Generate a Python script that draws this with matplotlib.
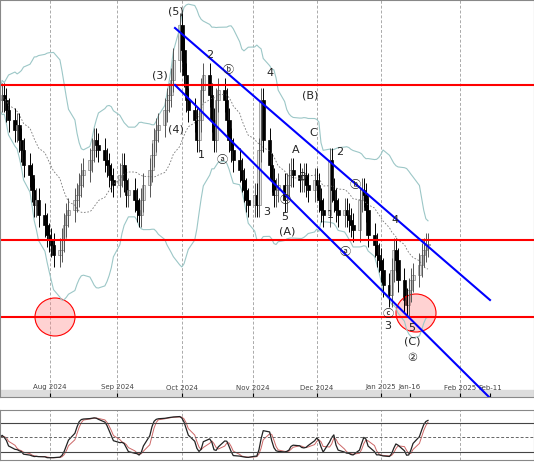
import numpy as np
import pandas as pd
import matplotlib
matplotlib.use("Agg")
import matplotlib.pyplot as plt

# closes (price units = 400 - pixel row), one per business day from 2024-07-08
closes = [300, 305, 300, 290, 280,
          270, 275, 260, 250, 235,
          225, 210, 195, 200, 185,
          175, 165, 160, 155, 145,
          150, 160, 175, 185, 190,
          200, 205, 215, 225, 230,
          240, 250, 260, 255, 250,
          240, 235, 225, 220, 215,
          225, 235, 220, 205, 210,
          200, 190, 185, 200, 215,
          230, 245, 260, 270, 275,
          290, 300, 305, 320, 340,
          375, 350, 325, 300, 290,
          280, 260, 280, 310, 325,
          305, 280, 260, 300, 310,
          300, 280, 260, 250, 240,
          230, 220, 210, 200, 195,
          205, 195, 250, 300, 260,
          235, 220, 205, 210, 215,
          200, 215, 225, 230, 225,
          220, 220, 225, 215, 210,
          220, 215, 200, 190, 185,
          240, 210, 200, 190, 185,
          190, 185, 180, 175, 170,
          200, 210, 205, 190, 165,
          155, 145, 140, 130, 115,
          105, 130, 150, 140, 120,
          100, 95, 110, 120, 125,
          135, 145, 150, 155, 155]
wick_up = 12
wick_dn = 12

hlines = [315, 160, 83]
upper_channel = [(175, 372), (490, 100)]
lower_channel = [(175, 315), (490, 2)]
labels = [("(5)", 176, 12), ("(3)", 160, 75), ("(4)", 176, 130), ("2", 210, 55),
          ("ⓑ", 228, 70), ("1", 201, 155), ("ⓐ", 222, 160), ("4", 270, 73),
          ("3", 267, 212), ("ⓒ", 285, 200), ("5", 285, 217), ("(A)", 287, 232),
          ("(B)", 310, 95), ("C", 313, 133), ("A", 296, 150), ("B", 303, 177),
          ("2", 340, 152), ("1", 330, 215), ("ⓑ", 355, 185), ("ⓐ", 345, 252),
          ("4", 395, 220), ("ⓒ", 388, 314), ("3", 388, 326), ("5", 412, 328),
          ("(C)", 412, 342), ("②", 412, 358)]

tick_names = ["Aug 2024", "Sep 2024", "Oct 2024", "Nov 2024", "Dec 2024",
              "Jan 2025", "Jan-16", "Feb 2025", "Feb-11"]
tick_px = [50, 117, 182, 253, 317, 381, 410, 460, 490]

PX = 2.14
start = pd.Timestamp("2024-07-08")
dates = pd.bdate_range(start, periods=len(closes))
xd = np.array([(d - start).days for d in dates], float)
c = np.array(closes, float)
o = np.r_[c[0], c[:-1]]
hi = np.maximum(o, c) + wick_up
lo = np.minimum(o, c) - wick_dn

def px2day(x):
    return x / PX

fig = plt.figure(figsize=(5.34, 4.62), dpi=100)
ax = fig.add_axes([0, 1 - 397 / 462, 1, 397 / 462])
ax2 = fig.add_axes([0, 2 / 462, 1, 50 / 462])
xmax = 534 / PX

# bollinger
s = pd.Series(c)
ma = s.rolling(20, min_periods=1).mean()
sd = s.rolling(20, min_periods=2).std().fillna(0)
ax.plot(xd, ma, color="#777777", lw=0.6, ls=(0, (2, 2)))
ax.plot(xd, ma + 2 * sd + 10, color="#9cc7c7", lw=0.8)
ax.plot(xd, ma - 2 * sd - 10, color="#9cc7c7", lw=0.8)

for i in range(len(c)):
    up = c[i] >= o[i]
    ax.vlines(xd[i], lo[i], hi[i], color="#555555" if up else "black", lw=0.7)
    ax.bar(xd[i], max(abs(c[i] - o[i]), 1.5), bottom=min(o[i], c[i]), width=1.5,
           color="#e6e6e6" if up else "black", edgecolor="#888888" if up else "black", lw=0.5)

for h in hlines:
    ax.axhline(h, color="red", lw=1.5)
for ch in (upper_channel, lower_channel):
    ax.plot([px2day(ch[0][0]), px2day(ch[1][0])], [ch[0][1], ch[1][1]], color="blue", lw=1.5)
for xc, yc in [(55, 317), (416, 313)]:
    ax.add_patch(matplotlib.patches.Ellipse((px2day(xc), 400 - yc), 40 / PX, 38,
                 facecolor=(1, 0.5, 0.5, 0.35), edgecolor="red", lw=0.8))
for t, xp, yp in labels:
    ax.text(px2day(xp), 400 - yp, t, ha="center", va="center", fontsize=8, color="#222222",
            family=["DejaVu Sans", "Noto Sans CJK JP"])

tx = [px2day(p) for p in tick_px]
for a in (ax, ax2):
    a.set_xlim(0, xmax)
    for i, x in enumerate(tx):
        if tick_names[i] not in ("Jan-16", "Feb-11"):
            a.axvline(x, color="#aaaaaa", lw=0.7, ls=(0, (3, 2)), zorder=0)
    a.set_yticks([])
    for sp in a.spines.values():
        sp.set_color("#888888")
ax.set_ylim(3, 400)
ax.set_xticks(tx)
ax.set_xticklabels(tick_names, fontsize=5, color="#444444")
ax.tick_params(axis="x", direction="in", pad=-9, length=3)
ax.add_patch(plt.Rectangle((0, 3), xmax, 7, color="#dddddd", zorder=-1))

# stochastic
hh = pd.Series(hi).rolling(14, min_periods=1).max()
ll = pd.Series(lo).rolling(14, min_periods=1).min()
k = (100 * (c - ll) / (hh - ll)).rolling(3, min_periods=1).mean()
d = k.rolling(3, min_periods=1).mean()
ax2.plot(xd, d, color="#cc6666", lw=0.7)
ax2.plot(xd, k, color="#222222", lw=0.9)
ax2.axhline(80, color="#444444", lw=0.8)
ax2.axhline(20, color="#444444", lw=0.8)
ax2.axhline(50, color="#666666", lw=0.7, ls=(0, (3, 2)))
ax2.set_ylim(3, 107)
ax2.set_xticks([])

fig.savefig("out.png", dpi=100)
